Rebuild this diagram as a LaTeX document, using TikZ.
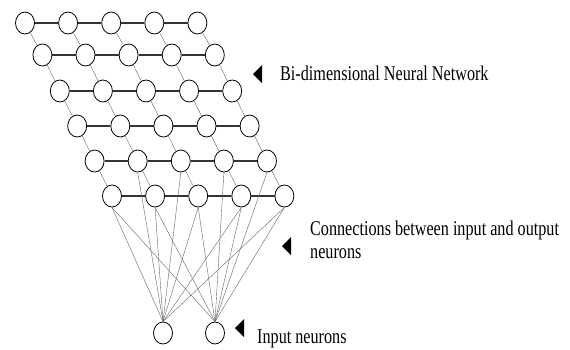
\documentclass[tikz,border=0pt]{standalone}
\usepackage{fontspec}
\setmainfont[FakeStretch=0.77]{Liberation Serif}
\usetikzlibrary{shapes.geometric}

\tikzset{
  neuron/.style={draw, ellipse, minimum width=19pt, minimum height=22pt, inner sep=0pt, line width=0.8pt},
  lateral/.style={line width=1.2pt, black!80},
  link/.style={line width=0.4pt, black!60},
  note/.style={font=\fontsize{21}{23}\selectfont, inner sep=0pt, anchor=base west, align=left}
}

\begin{document}
\begin{tikzpicture}[x=1pt, y=-1pt]
    \useasboundingbox (0,0) rectangle (570,349);

    % Output neurons: six rows of five, each row shifted to the right
    \foreach \r/\y in {0/23, 1/55, 2/91, 3/126, 4/161, 5/196} {
        \foreach \c in {0,...,4} {
            \node[neuron] (n\r\c) at ({25 + 17.4*\r + 43.1*\c}, \y) {};
        }
    }

    % Lateral connections inside each row
    \foreach \r in {0,...,5} {
        \foreach \c [evaluate=\c as \d using int(\c+1)] in {0,...,3} {
            \draw[lateral] (n\r\c) -- (n\r\d);
        }
    }

    % Links between neighbouring rows
    \foreach \r [evaluate=\r as \s using int(\r+1)] in {0,...,4} {
        \foreach \c in {0,...,4} {
            \draw[link] (n\r\c) -- (n\s\c);
        }
    }

    % Input neurons
    \node[neuron] (in1) at (163,333) {};
    \node[neuron] (in2) at (215,333) {};

    % Connections between input and output neurons
    \foreach \c in {0,...,4} {
        \draw[link] (n5\c.south) -- (in1.north);
        \draw[link] (n5\c.south) -- (in2.north);
    }
    \foreach \c in {1,2} \draw[link] (n4\c.south) -- (in1.north);
    \foreach \c in {3,4} \draw[link] (n4\c.south) -- (in2.north);

    % Labels (base is the baseline of the last line)
    \node[note] (grid) at (280,80) {Bi-dimensional Neural Network};
    \node[note] (conn) at (310,258) {Connections between input and output\\neurons};
    \node[note] (inp) at (257,343) {Input neurons};

    % Pointers
    \fill (253,74) -- (262,65) -- (262,83) -- cycle;
    \fill (282,246) -- (291,237) -- (291,255) -- cycle;
    \fill (235,328) -- (244,319) -- (244,337) -- cycle;
\end{tikzpicture}
\end{document}
